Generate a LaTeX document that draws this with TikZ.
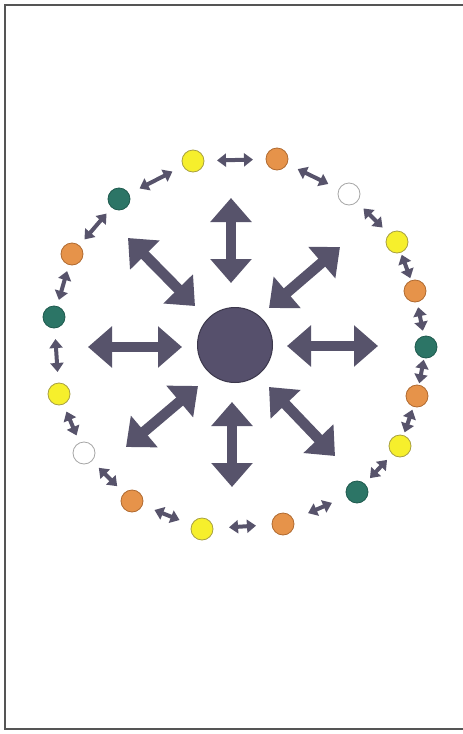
\documentclass[tikz,border=0pt]{standalone}
\usetikzlibrary{arrows.meta,calc}
\definecolor{arrowcol}{HTML}{57536B}
\definecolor{hubcol}{HTML}{56506C}
\definecolor{yel}{HTML}{F6EF2C}
\definecolor{yelline}{HTML}{A8A040}
\definecolor{ora}{HTML}{E6934A}
\definecolor{oraline}{HTML}{B06A30}
\definecolor{gre}{HTML}{2C7566}
\definecolor{greline}{HTML}{1F5A4E}
\definecolor{frame}{HTML}{555555}
\tikzset{
  dot/.style={circle,minimum size=22pt,inner sep=0pt,line width=0.8pt},
  ydot/.style={dot,fill=yel,draw=yelline},
  odot/.style={dot,fill=ora,draw=oraline},
  gdot/.style={dot,fill=gre,draw=greline},
  wdot/.style={dot,fill=white,draw=gray!70},
  hub/.style={circle,minimum size=75pt,inner sep=0pt,fill=hubcol,draw=hubcol!70!black,line width=1pt},
  bigarrow/.style={draw=arrowcol,line width=10.5pt,{Triangle[width=40pt,length=24pt]}-{Triangle[width=40pt,length=24pt]}},
  smallarrow/.style={draw=arrowcol,line width=4pt,{Triangle[width=13pt,length=9pt]}-{Triangle[width=13pt,length=9pt]}},
  framestyle/.style={draw=frame,line width=2.2pt}
}
\begin{document}
\begin{tikzpicture}[x=1pt,y=-1pt]
\fill[white] (0,0) rectangle (463,734);
\useasboundingbox (0,0) rectangle (463,734);
\coordinate (ftr) at (463,5);
\coordinate (ftl) at (5,5);
\coordinate (fbl) at (5,729);
\coordinate (fbr) at (463,729);
\draw[framestyle] (ftr) -- (ftl) -- (fbl) -- (fbr);

\node[hub] (hub) at (235,345) {};

% outer ring
\node[ydot] (c1) at (193,161) {};
\node[odot] (c2) at (277,159) {};
\node[wdot] (c3) at (349,194) {};
\node[ydot] (c4) at (397,242) {};
\node[odot] (c5) at (415,291) {};
\node[gdot] (c6) at (426,347) {};
\node[odot] (c7) at (417,396) {};
\node[ydot] (c8) at (400,446) {};
\node[gdot] (c9) at (357,492) {};
\node[odot] (c10) at (283,524) {};
\node[ydot] (c11) at (202,529) {};
\node[odot] (c12) at (132,501) {};
\node[wdot] (c13) at (84,453) {};
\node[ydot] (c14) at (59,394) {};
\node[gdot] (c15) at (54,317) {};
\node[odot] (c16) at (72,254) {};
\node[gdot] (c17) at (119,199) {};

\foreach \a/\b/\h in {c1/c2/18, c2/c3/17, c3/c4/13.5, c4/c5/12.5, c5/c6/12, c6/c7/12, c7/c8/12,
  c8/c9/12.5, c9/c10/13, c10/c11/13.5, c11/c12/13.5, c12/c13/13, c13/c14/13, c14/c15/16.5,
  c15/c16/15, c16/c17/17, c17/c1/18.5}
  \draw[smallarrow] ($(\a)!0.5!(\b)!\h pt!(\a)$) -- ($(\a)!0.5!(\b)!\h pt!(\b)$);

% big radial arrows
\coordinate (tA) at (231,198);  \coordinate (tB) at (231,283);
\coordinate (bA) at (232,402);  \coordinate (bB) at (232,487);
\coordinate (lA) at (88,347);   \coordinate (lB) at (182,347);
\coordinate (rA) at (287,346);  \coordinate (rB) at (378,346);
\coordinate (ulA) at (128,238); \coordinate (ulB) at (195,306);
\coordinate (urA) at (340,247); \coordinate (urB) at (269,308);
\coordinate (llA) at (126,447); \coordinate (llB) at (198,386);
\coordinate (lrA) at (335,456); \coordinate (lrB) at (269,387);
\draw[bigarrow] (tA) -- (tB);
\draw[bigarrow] (bA) -- (bB);
\draw[bigarrow] (lA) -- (lB);
\draw[bigarrow] (rA) -- (rB);
\draw[bigarrow] (ulA) -- (ulB);
\draw[bigarrow] (urA) -- (urB);
\draw[bigarrow] (llA) -- (llB);
\draw[bigarrow] (lrA) -- (lrB);
\end{tikzpicture}
\end{document}
